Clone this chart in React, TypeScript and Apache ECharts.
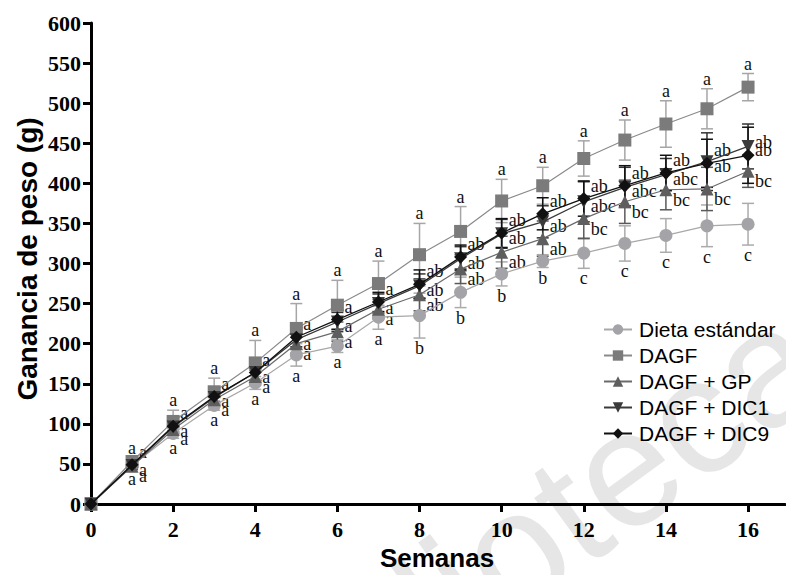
import React, { useEffect, useRef } from "react";
import * as echarts from "echarts";

const weeks = [0, 1, 2, 3, 4, 5, 6, 7, 8, 9, 10, 11, 12, 13, 14, 15, 16];
const xTicks = [0, 2, 4, 6, 8, 10, 12, 14, 16];

const seriesNames = ["Dieta estándar", "DAGF", "DAGF + GP", "DAGF + DIC1", "DAGF + DIC9"];

const dieta = [0, 48, 88, 123, 151, 186, 197, 233, 235, 264, 287, 303, 313, 325, 335, 347, 349];
const dietaErr = [0, 4, 6, 6, 8, 14, 8, 15, 28, 19, 15, 8, 19, 22, 21, 26, 26];
const dietaLetters = ["", "a", "a", "a", "a", "a", "a", "a", "b", "b", "b", "b", "c", "c", "c", "c", "c"];

const dagf = [0, 53, 103, 140, 176, 219, 248, 275, 311, 340, 378, 397, 431, 454, 474, 493, 520];
const dagfErr = [0, 5, 14, 17, 28, 31, 31, 28, 39, 31, 27, 23, 22, 25, 29, 25, 17];
const dagfLetters = ["", "a", "a", "a", "a", "a", "a", "a", "a", "a", "a", "a", "a", "a", "a", "a", "a"];

const gp = [0, 47, 93, 130, 159, 200, 215, 243, 261, 293, 314, 331, 356, 377, 392, 393, 415];
const gpErr = [0, 4, 5, 6, 8, 12, 12, 12, 20, 18, 20, 22, 25, 27, 25, 27, 20];
const gpLetters = ["", "a", "a", "a", "a", "a", "a", "a", "ab", "ab", "ab", "ab", "bc", "bc", "bc", "bc", "bc"];

const dic1 = [0, 48, 96, 133, 164, 205, 227, 250, 272, 306, 337, 352, 377, 395, 411, 427, 446];
const dic1Err = [0, 4, 6, 7, 10, 12, 12, 12, 15, 15, 18, 20, 25, 25, 20, 36, 28];
const dic1Letters = ["", "a", "a", "a", "a", "a", "a", "a", "ab", "ab", "ab", "ab", "abc", "abc", "abc", "ab", "ab"];

const dic9 = [0, 49, 97, 134, 164, 208, 230, 252, 274, 308, 338, 362, 381, 397, 413, 425, 435];
const dic9Err = [0, 4, 6, 7, 10, 12, 12, 12, 18, 15, 18, 20, 22, 25, 22, 30, 35];
const dic9Letters = ["", "a", "a", "a", "a", "a", "a", "a", "ab", "ab", "ab", "ab", "ab", "ab", "ab", "ab", "ab"];

type Group = {
  name: string;
  values: number[];
  errs: number[];
  letters: string[];
  symbol: string;
  symbolSize: number;
  marker: string;
  line: string;
  lineWidth: number;
  bar: string;
  labelMode: "below" | "above" | "right";
  labelDy: number;
  z: number;
};

const groups: Group[] = [
  { name: seriesNames[0], values: dieta, errs: dietaErr, letters: dietaLetters, symbol: "circle", symbolSize: 13, marker: "#a4a4a8", line: "#a8a8a8", lineWidth: 1.2, bar: "#ababab", labelMode: "below", labelDy: 0, z: 3 },
  { name: seriesNames[1], values: dagf, errs: dagfErr, letters: dagfLetters, symbol: "rect", symbolSize: 13, marker: "#7b7b7b", line: "#8a8a8a", lineWidth: 1.2, bar: "#a6a6a6", labelMode: "above", labelDy: 0, z: 4 },
  { name: seriesNames[2], values: gp, errs: gpErr, letters: gpLetters, symbol: "triangle", symbolSize: 13, marker: "#5e5e5e", line: "#6a6a6a", lineWidth: 1.2, bar: "#5a5a5a", labelMode: "right", labelDy: 10, z: 5 },
  { name: seriesNames[3], values: dic1, errs: dic1Err, letters: dic1Letters, symbol: "path://M0,0 L10,0 L5,9 Z", symbolSize: 13, marker: "#3a3a3a", line: "#3a3a3a", lineWidth: 1.3, bar: "#333333", labelMode: "right", labelDy: 4, z: 6 },
  { name: seriesNames[4], values: dic9, errs: dic9Err, letters: dic9Letters, symbol: "diamond", symbolSize: 13, marker: "#111111", line: "#111111", lineWidth: 1.3, bar: "#111111", labelMode: "right", labelDy: -13, z: 7 },
];

const LABEL_FONT = '18px "Liberation Serif", "Times New Roman", serif';

export default function App() {
  const ref = useRef<HTMLDivElement>(null);

  useEffect(() => {
    document.body.style.margin = "0";
    if (!ref.current) return;
    const chart = echarts.init(ref.current, null, { renderer: "svg" });

    const series: any[] = [];
    groups.forEach((g) => {
      series.push({
        type: "custom",
        z: 1,
        silent: true,
        data: weeks.map((w, i) => [w, g.values[i], g.errs[i]]),
        renderItem: (params: any, api: any) => {
          const i = params.dataIndex;
          if (i === 0) return { type: "group", children: [] };
          const x = api.value(0);
          const m = api.value(1);
          const e = api.value(2);
          const top = api.coord([x, m + e]);
          const bot = api.coord([x, m - e]);
          const c = api.coord([x, m]);
          const cap = 6;
          const st = { stroke: g.bar, lineWidth: 1.5 };
          const children: any[] = [
            { type: "line", shape: { x1: top[0], y1: top[1], x2: bot[0], y2: bot[1] }, style: st },
            { type: "line", shape: { x1: top[0] - cap, y1: top[1], x2: top[0] + cap, y2: top[1] }, style: st },
            { type: "line", shape: { x1: bot[0] - cap, y1: bot[1], x2: bot[0] + cap, y2: bot[1] }, style: st },
          ];
          let tx = c[0];
          let ty = c[1];
          let align = "center";
          let valign = "middle";
          if (g.labelMode === "below") {
            ty = bot[1] + 1;
            valign = "top";
          } else if (g.labelMode === "above") {
            ty = top[1] - 1;
            valign = "bottom";
          } else {
            tx = c[0] + 7;
            ty = c[1] + g.labelDy;
            align = "left";
          }
          children.push({
            type: "text",
            x: tx,
            y: ty,
            z2: 100,
            style: { text: g.letters[i], font: LABEL_FONT, fill: "#111", align, verticalAlign: valign },
          });
          return { type: "group", children };
        },
      });
      series.push({
        type: "line",
        name: g.name,
        z: g.z,
        data: weeks.map((w, i) => [w, g.values[i]]),
        symbol: g.symbol,
        symbolSize: g.symbolSize,
        showSymbol: true,
        showAllSymbol: true,
        itemStyle: { color: g.marker, borderWidth: 0 },
        lineStyle: { color: g.line, width: g.lineWidth },
        emphasis: { disabled: true },
      });
    });

    const option: any = {
      animation: false,
      backgroundColor: "#ffffff",
      grid: { left: 91, right: 1, top: 23, bottom: 71, containLabel: false, outerBoundsMode: "none" },
      legend: {
        data: seriesNames,
        orient: "vertical",
        left: 598,
        top: 314,
        itemWidth: 28,
        itemHeight: 13,
        itemGap: 5,
        textStyle: { fontSize: 21, fontFamily: '"Liberation Sans", Arial, sans-serif', color: "#000", padding: [0, 0, 0, 2] },
      },
      xAxis: {
        type: "value",
        min: 0,
        max: 16.9,
        interval: 2,
        splitLine: { show: false },
        axisLine: { show: true, onZero: false, lineStyle: { color: "#000", width: 3 } },
        axisTick: { show: true, length: 8, customValues: xTicks, lineStyle: { color: "#000", width: 3 } },
        axisLabel: {
          customValues: xTicks,
          margin: 14,
          color: "#000",
          fontSize: 22,
          fontWeight: "bold",
          fontFamily: '"Liberation Serif", "Times New Roman", serif',
        },
      },
      yAxis: {
        type: "value",
        min: 0,
        max: 600,
        interval: 50,
        splitLine: { show: false },
        axisLine: { show: true, onZero: false, lineStyle: { color: "#000", width: 3 } },
        axisTick: { show: true, length: 8, lineStyle: { color: "#000", width: 3 } },
        axisLabel: {
          margin: 10,
          color: "#000",
          fontSize: 22,
          fontWeight: "bold",
          fontFamily: '"Liberation Serif", "Times New Roman", serif',
        },
      },
      graphic: [
        {
          type: "text",
          z: -10,
          silent: true,
          x: 802,
          y: 340,
          rotation: 0.63,
          style: {
            text: "Biblioteca",
            font: '165px "Liberation Sans", Arial, sans-serif',
            fill: "#e6e6e6",
            align: "right",
            verticalAlign: "middle",
          },
        },
        {
          type: "text",
          x: 27,
          y: 259,
          rotation: Math.PI / 2,
          style: {
            text: "Ganancia de peso (g)",
            font: 'bold 28px "Liberation Sans", Arial, sans-serif',
            fill: "#000",
            align: "center",
            verticalAlign: "middle",
          },
        },
        {
          type: "text",
          x: 437,
          y: 558,
          style: {
            text: "Semanas",
            font: 'bold 26px "Liberation Sans", Arial, sans-serif',
            fill: "#000",
            align: "center",
            verticalAlign: "middle",
          },
        },
      ],
      series,
    };

    chart.setOption(option);
    return () => chart.dispose();
  }, []);

  return <div ref={ref} style={{ width: 786, height: 575 }} />;
}
